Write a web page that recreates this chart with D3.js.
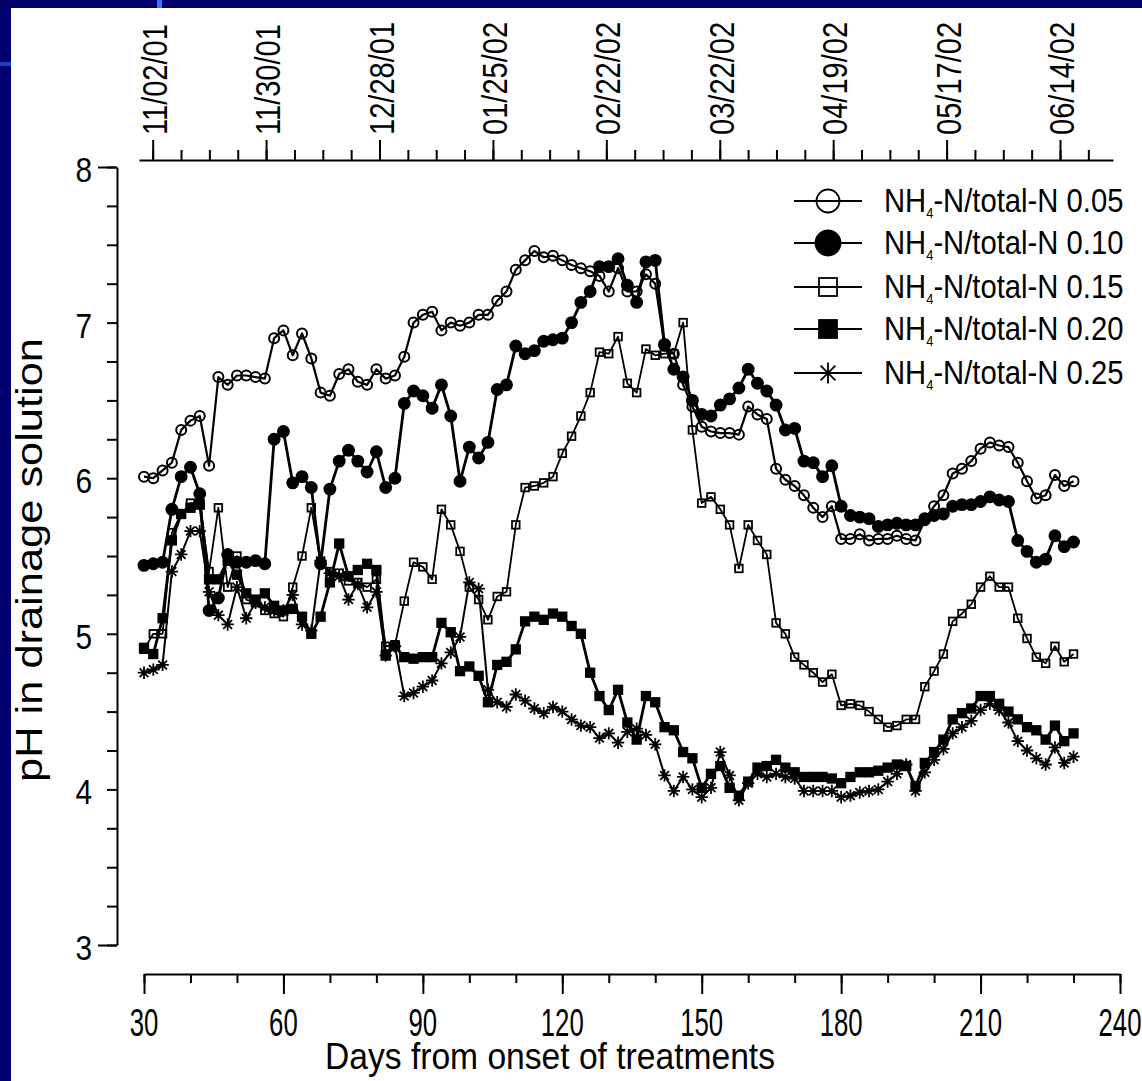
<!DOCTYPE html>
<html><head><meta charset="utf-8">
<script src="https://cdn.jsdelivr.net/npm/d3@7"></script>
<style>html,body{margin:0;padding:0;background:#fff;} svg{display:block;}</style>
</head><body><svg id="c" width="1142" height="1081"></svg>
<script>
// ---------------- data ----------------
const days = [30,32,34,36,38,40,42,44,46,48,50,52,54,56,58,60,62,64,66,68,70,72,74,76,78,80,82,84,86,88,90,92,94,96,98,100,102,104,106,108,110,112,114,116,118,120,122,124,126,128,130,132,134,136,138,140,142,144,146,148,150,152,154,156,158,160,162,164,166,168,170,172,174,176,178,180,182,184,186,188,190,192,194,196,198,200,202,204,206,208,210,212,214,216,218,220,222,224,226,228,230];
const ph005 = [6.01,6.00,6.05,6.10,6.31,6.37,6.40,6.08,6.65,6.60,6.66,6.66,6.65,6.64,6.90,6.95,6.79,6.93,6.77,6.55,6.53,6.67,6.70,6.62,6.60,6.70,6.64,6.66,6.78,7.00,7.05,7.07,6.95,7.00,6.98,7.00,7.05,7.05,7.14,7.20,7.34,7.40,7.46,7.42,7.43,7.40,7.37,7.35,7.33,7.30,7.20,7.35,7.20,7.20,7.31,7.25,6.85,6.80,6.60,6.46,6.33,6.30,6.29,6.29,6.28,6.46,6.41,6.38,6.06,5.99,5.95,5.89,5.81,5.75,5.82,5.61,5.61,5.64,5.60,5.61,5.61,5.63,5.61,5.60,5.73,5.82,5.89,6.03,6.06,6.11,6.19,6.23,6.21,6.20,6.10,5.98,5.87,5.89,6.02,5.95,5.98];
const ph010 = [5.44,5.45,5.46,5.80,6.01,6.07,5.90,5.15,5.23,5.51,5.46,5.46,5.47,5.45,6.25,6.30,5.97,6.01,5.94,5.45,5.93,6.11,6.18,6.11,6.04,6.17,5.94,6.00,6.48,6.56,6.53,6.45,6.60,6.40,5.98,6.20,6.13,6.23,6.57,6.60,6.85,6.80,6.82,6.88,6.89,6.90,7.00,7.13,7.20,7.36,7.36,7.41,7.24,7.13,7.39,7.40,6.86,6.70,6.65,6.50,6.41,6.40,6.47,6.51,6.58,6.70,6.61,6.56,6.47,6.31,6.32,6.11,6.10,6.01,6.08,5.82,5.76,5.75,5.74,5.69,5.70,5.71,5.70,5.70,5.74,5.76,5.77,5.82,5.83,5.83,5.85,5.88,5.86,5.85,5.60,5.53,5.46,5.48,5.63,5.56,5.59];
const ph015 = [4.90,5.00,5.00,5.65,5.77,5.84,5.84,5.40,5.81,5.30,5.50,5.22,5.20,5.15,5.13,5.11,5.30,5.50,5.81,5.46,5.40,5.39,5.34,5.33,5.30,5.35,4.92,4.93,5.21,5.46,5.43,5.35,5.80,5.70,5.53,5.30,5.22,5.09,5.24,5.27,5.70,5.94,5.95,5.97,6.01,6.16,6.27,6.40,6.55,6.81,6.80,6.91,6.61,6.55,6.83,6.79,6.80,6.80,7.00,6.31,5.84,5.88,5.80,5.70,5.42,5.70,5.60,5.51,5.07,5.00,4.85,4.80,4.75,4.69,4.74,4.54,4.55,4.54,4.50,4.45,4.40,4.41,4.45,4.45,4.66,4.76,4.87,5.08,5.13,5.19,5.30,5.37,5.30,5.30,5.10,4.97,4.85,4.81,4.92,4.82,4.87];
const ph020 = [4.91,4.87,5.10,5.60,5.77,5.81,5.83,5.35,5.35,5.47,5.38,5.26,5.22,5.26,5.18,5.15,5.16,5.11,5.00,5.11,5.33,5.58,5.37,5.41,5.45,5.41,4.86,4.92,4.85,4.84,4.85,4.85,5.07,5.01,4.76,4.79,4.73,4.56,4.80,4.82,4.90,5.08,5.11,5.09,5.13,5.11,5.05,5.00,4.75,4.60,4.51,4.64,4.43,4.32,4.60,4.56,4.40,4.38,4.24,4.20,4.01,4.10,4.15,4.01,3.96,4.05,4.14,4.15,4.19,4.14,4.11,4.08,4.08,4.08,4.07,4.04,4.08,4.11,4.11,4.12,4.14,4.16,4.15,4.02,4.17,4.24,4.32,4.45,4.49,4.52,4.60,4.60,4.55,4.50,4.45,4.40,4.38,4.32,4.41,4.31,4.36];
const ph025 = [4.75,4.77,4.80,5.40,5.51,5.66,5.66,5.27,5.12,5.06,5.30,5.10,5.20,5.17,5.15,5.15,5.25,5.06,5.02,5.47,5.39,5.37,5.22,5.32,5.17,5.27,4.86,4.92,4.60,4.62,4.66,4.70,4.81,4.88,4.98,5.33,5.29,4.64,4.56,4.53,4.61,4.57,4.52,4.49,4.53,4.50,4.45,4.41,4.40,4.33,4.36,4.30,4.37,4.39,4.35,4.29,4.09,3.99,4.08,4.00,3.95,4.01,4.24,4.09,3.93,4.04,4.10,4.08,4.10,4.08,4.07,3.99,3.99,3.99,3.99,3.95,3.96,3.98,3.99,4.00,4.05,4.10,4.16,3.99,4.11,4.19,4.26,4.36,4.40,4.44,4.51,4.55,4.51,4.43,4.31,4.25,4.20,4.16,4.27,4.17,4.21];
const legendRatios = ["0.05","0.10","0.15","0.20","0.25"];
const xTickLabels = [30,60,90,120,150,180,210,240];
const yTickLabels = [3,4,5,6,7,8];
const dateTickLabels = ["11/02/01","11/30/01","12/28/01","01/25/02","02/22/02","03/22/02","04/19/02","05/17/02","06/14/02"];
const xTitle = "Days from onset of treatments";
const yTitle = "pH in drainage solution";

// ---------------- setup ----------------
const svg = d3.select("#c");
const FONT = "'Liberation Sans', Arial, Helvetica, sans-serif";
svg.append("rect").attr("x",0).attr("y",0).attr("width",1142).attr("height",1081).attr("fill","#00006e");
svg.append("rect").attr("x",11).attr("y",8).attr("width",1131).attr("height",1073).attr("fill","#ffffff");
svg.append("rect").attr("x",157).attr("y",0).attr("width",5).attr("height",8).attr("fill","#3f6fff");
svg.append("rect").attr("x",0).attr("y",62).attr("width",11).attr("height",4).attr("fill","#1a40d0");

const x = d3.scaleLinear().domain([30,240]).range([144,1120]);
const y = d3.scaleLinear().domain([3,8]).range([945,167]);
const parseD = d3.utcParse("%m/%d/%y");
const fmtD = d3.utcFormat("%m/%d/%y");
const dTop = d3.scaleUtc()
  .domain([d3.utcHour.offset(parseD("11/02/01"), -81), d3.utcHour.offset(parseD("06/14/02"), 314)])
  .range([139,1113]);

function label(x0, y0, rot, str, size, anchor, sx){
  return svg.append("text")
    .attr("transform",`translate(${x0},${y0}) rotate(${rot}) scale(${sx},1)`)
    .attr("font-family",FONT).attr("font-size",size)
    .attr("text-anchor",anchor).attr("fill","#000").text(str);
}
function fitted(x0, y0, rot, str, size, len){
  return svg.append("text")
    .attr("transform",`translate(${x0},${y0}) rotate(${rot})`)
    .attr("x",-len/2).attr("y",0)
    .attr("font-family",FONT).attr("font-size",size)
    .attr("textLength",len).attr("lengthAdjust","spacingAndGlyphs")
    .attr("fill","#000").text(str);
}

function styleAxis(g, w){
  g.selectAll("path,line").attr("stroke","#000").attr("stroke-width",w);
  g.selectAll("text").remove();
}

// bottom axis
const gb1 = svg.append("g").attr("transform","translate(0,974)")
  .call(d3.axisBottom(x).tickValues(d3.range(30,241,10)).tickSize(9).tickSizeOuter(0).tickFormat(""));
styleAxis(gb1, 2);
const gb2 = svg.append("g").attr("transform","translate(0,974)")
  .call(d3.axisBottom(x).tickValues(xTickLabels).tickSize(20).tickSizeOuter(0).tickFormat(""));
styleAxis(gb2, 2);
gb2.select("path").remove();
xTickLabels.forEach(v => label(x(v), 1036, 0, String(v), 39, "middle", 0.66));
fitted(550, 1069, 0, xTitle, 36, 450);

// left axis
const gl1 = svg.append("g").attr("transform","translate(117,0)")
  .call(d3.axisLeft(y).tickValues(d3.range(3,8.001,0.25)).tickSize(10).tickSizeOuter(0).tickFormat(""));
styleAxis(gl1, 2);
const gl2 = svg.append("g").attr("transform","translate(117,0)")
  .call(d3.axisLeft(y).tickValues([3,8]).tickSize(19).tickSizeOuter(0).tickFormat(""));
styleAxis(gl2, 2);
gl2.select("path").remove();
yTickLabels.forEach(v => label(92, y(v)+15, 0, String(v), 36, "end", 0.83));
fitted(42, 560, -90, yTitle, 36, 444);

// top date axis
const fridays = d3.utcFriday.range(dTop.domain()[0], dTop.domain()[1]);
const majorDates = dateTickLabels.map(parseD);
const gt1 = svg.append("g").attr("transform","translate(0,160)")
  .call(d3.axisTop(dTop).tickValues(fridays).tickSize(10).tickSizeOuter(0).tickFormat(""));
styleAxis(gt1, 2);
const gt2 = svg.append("g").attr("transform","translate(0,160)")
  .call(d3.axisTop(dTop).tickValues(majorDates).tickSize(20).tickSizeOuter(0).tickFormat(""));
styleAxis(gt2, 2);
gt2.select("path").remove();
majorDates.forEach(d => label(dTop(d)+14, 135, -90, fmtD(d), 35, "start", 0.83));

// ---------------- markers ----------------
function starPath(r){
  const a = r*0.7071;
  return `M0,${-r}V${r}M${-r},0H${r}M${-a},${-a}L${a},${a}M${-a},${a}L${a},${-a}`;
}
const series = [
  {vals: ph005, type:"circle", fill:false, lw:2.2, r:5.0, sw:2.0, lr:11.5},
  {vals: ph010, type:"circle", fill:true,  lw:2.8, r:5.7, sw:1.5, lr:12.5},
  {vals: ph015, type:"square", fill:false, lw:1.8, r:3.8, sw:1.8, lr:9},
  {vals: ph020, type:"square", fill:true,  lw:2.8, r:4.4, sw:1.5, lr:9},
  {vals: ph025, type:"star",   fill:false, lw:2.0, r:6.2, sw:1.8, lr:10.5}
];
const line = d3.line().x((d,i)=>x(days[i])).y(d=>y(d));

function drawMarker(g, s, cx, cy, r, sw){
  if (s.type==="circle"){
    g.append("circle").attr("cx",cx).attr("cy",cy).attr("r",r)
      .attr("fill", s.fill?"#000":"none").attr("stroke","#000").attr("stroke-width",sw);
  } else if (s.type==="square"){
    g.append("rect").attr("x",cx-r).attr("y",cy-r).attr("width",2*r).attr("height",2*r)
      .attr("fill", s.fill?"#000":"none").attr("stroke","#000").attr("stroke-width",sw);
  } else {
    g.append("path").attr("transform",`translate(${cx},${cy})`).attr("d",starPath(r))
      .attr("fill","none").attr("stroke","#000").attr("stroke-width",sw);
  }
}

series.forEach(s => {
  const g = svg.append("g");
  g.append("path").attr("d", line(s.vals)).attr("fill","none")
    .attr("stroke","#000").attr("stroke-width",s.lw).attr("stroke-linejoin","round");
  s.vals.forEach((v,i) => drawMarker(g, s, x(days[i]), y(v), s.r, s.sw));
});

// ---------------- legend ----------------
const legRows = [201,243,287,329,373];
series.forEach((s,i) => {
  const g = svg.append("g");
  const ly = legRows[i];
  g.append("line").attr("x1",794).attr("x2",862).attr("y1",ly).attr("y2",ly)
    .attr("stroke","#000").attr("stroke-width",2);
  drawMarker(g, s, 828, ly, s.lr, 1.8);
  const t = svg.append("text")
    .attr("transform",`translate(884,${ly+11}) scale(0.86,1)`)
    .attr("font-family",FONT).attr("font-size",34).attr("fill","#000");
  t.append("tspan").text("NH");
  t.append("tspan").attr("font-size",15).attr("dy",6).text("4");
  t.append("tspan").attr("dy",-6).text("-N/total-N " + legendRatios[i]);
});
</script></body></html>
